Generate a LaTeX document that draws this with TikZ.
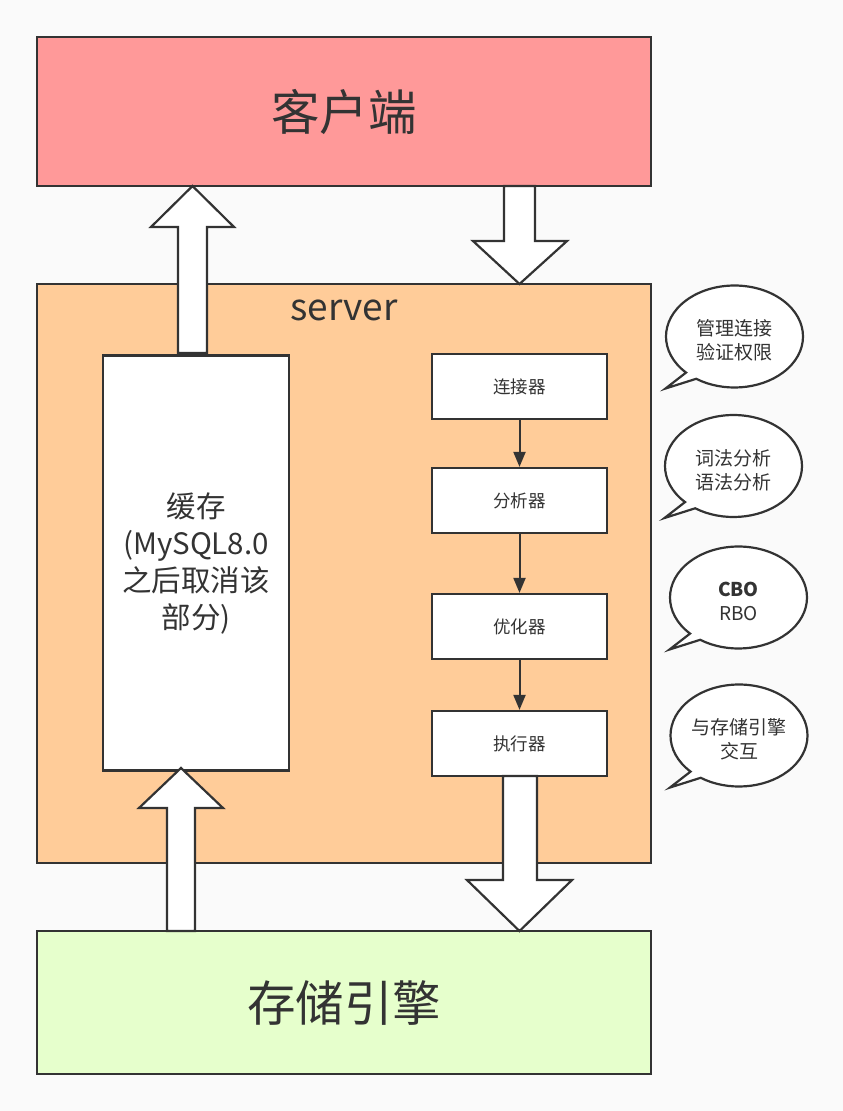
\documentclass[tikz,border=0pt]{standalone}
\usepackage{fontspec}
\setmainfont{Noto Sans CJK SC}
\usetikzlibrary{arrows.meta}
\definecolor{ink}{HTML}{333333}
\definecolor{bg}{HTML}{FAFAFA}
\definecolor{clientc}{HTML}{FF9999}
\definecolor{serverc}{HTML}{FFCC99}
\definecolor{storec}{HTML}{E6FFCC}
\tikzset{
  box/.style={draw=ink, line width=2.2pt, rectangle, inner sep=0pt, text=ink, align=center},
  stepbox/.style={box, fill=white, minimum width=175pt, minimum height=65pt, font=\fontsize{17.5}{20}\selectfont},
  blockarrow/.style={draw=ink, fill=white, line width=2.2pt, line join=miter},
  flow/.style={draw=ink, line width=2pt, -{Triangle[length=15pt,width=12pt]}},
  bubble/.style={draw=ink, fill=white, line width=2.2pt, line join=miter},
  bubbletext/.style={text=ink, align=center, inner sep=0pt, font=\fontsize{19}{24}\selectfont}
}
\newcommand\speech[4]{%
  \draw[bubble] (#2,#3) ++(135:68.5 and 51) arc[start angle=135, end angle=484, x radius=68.5, y radius=51] -- (#2-69,#3+52) -- cycle;
  \node[bubbletext] (#1) at (#2,#3+4) {#4};
}
\begin{document}
\begin{tikzpicture}[x=1pt,y=-1pt]
\fill[bg] (0,0) rectangle (843,1111);
\useasboundingbox (0,0) rectangle (843,1111);
% main boxes
\node[box, fill=clientc, minimum width=614pt, minimum height=149pt, font=\fontsize{48.5}{52}\selectfont] (client) at (344,111.5) {客户端};
\node[box, fill=serverc, minimum width=614pt, minimum height=579pt] (server) at (344,573.5) {};
\node[text=ink, font=\fontsize{37}{40}\selectfont, inner sep=0pt] (serverlbl) at (344,310) {server};
\node[box, fill=storec, minimum width=614pt, minimum height=143pt, font=\fontsize{48.5}{52}\selectfont] (store) at (344,1002.5) {存储引擎};
\node[box, fill=white, minimum width=186pt, minimum height=415pt, font=\fontsize{29.5}{37}\selectfont] (cache) at (196,563) {缓存\\(MySQL8.0\\之后取消该\\部分)};
% process steps
\node[stepbox] (conn) at (519.5,386.5) {连接器};
\node[stepbox] (ana) at (519.5,500.5) {分析器};
\node[stepbox] (opt) at (519.5,626.5) {优化器};
\node[stepbox] (exe) at (519.5,743.5) {执行器};
\draw[flow] (conn) -- (ana);
\draw[flow] (ana) -- (opt);
\draw[flow] (opt) -- (exe);
% block arrows
\draw[blockarrow] (178,353) -- (178,227) -- (151,227) -- (192.5,186) -- (234,227) -- (207,227) -- (207,353) -- cycle;
\draw[blockarrow] (504,186) -- (504,241) -- (473,241) -- (519.5,284) -- (567,241) -- (535,241) -- (535,186) -- cycle;
\draw[blockarrow] (503,776) -- (503,880) -- (467,880) -- (519.5,931) -- (572,880) -- (537,880) -- (537,776) -- cycle;
\draw[blockarrow] (167,931) -- (167,808) -- (139,808) -- (181,768) -- (223,808) -- (195,808) -- (195,931) -- cycle;
% callouts
\speech{c1}{734.5}{336.5}{管理连接\\验证权限}
\speech{c2}{733.5}{466}{词法分析\\语法分析}
\speech{c3}{738.5}{597.5}{\textbf{CBO}\\RBO}
\speech{c4}{739}{735.5}{与存储引擎\\交互}
\end{tikzpicture}
\end{document}
